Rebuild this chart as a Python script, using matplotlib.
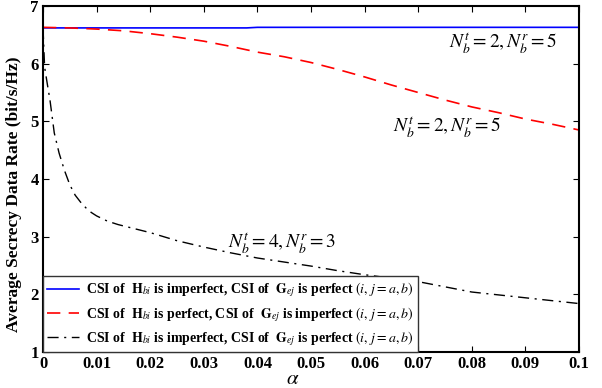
import numpy as np
import matplotlib
matplotlib.use("Agg")
import matplotlib.pyplot as plt

plt.rcParams['font.family'] = ['Liberation Serif', 'DejaVu Serif']
plt.rcParams['mathtext.fontset'] = 'stix'

# data
alpha_bk = [0, 0.0003, 0.0008, 0.0013, 0.0021, 0.003, 0.004, 0.005, 0.006, 0.007,
            0.008, 0.009, 0.01, 0.012, 0.014, 0.017, 0.02, 0.025, 0.03, 0.035,
            0.04, 0.045, 0.05, 0.055, 0.06, 0.065, 0.07, 0.075, 0.08, 0.085,
            0.09, 0.095, 0.1]
rate_black = [6.62, 5.94, 5.65, 5.37, 4.80, 4.45, 4.15, 3.90, 3.72, 3.60,
              3.50, 3.42, 3.36, 3.27, 3.21, 3.14, 3.07, 2.93, 2.82, 2.72,
              2.63, 2.56, 2.49, 2.41, 2.34, 2.28, 2.22, 2.13, 2.04, 1.99,
              1.94, 1.89, 1.84]

alpha = [0, 0.005, 0.01, 0.015, 0.02, 0.025, 0.03, 0.035, 0.038, 0.04,
         0.045, 0.05, 0.055, 0.06, 0.065, 0.07, 0.075, 0.08, 0.085, 0.09,
         0.095, 0.1]
rate_blue = [6.62, 6.62, 6.62, 6.62, 6.62, 6.62, 6.62, 6.62, 6.62, 6.63,
             6.63, 6.63, 6.63, 6.63, 6.63, 6.63, 6.63, 6.63, 6.63, 6.63,
             6.63, 6.63]
rate_red = [6.63, 6.62, 6.60, 6.57, 6.52, 6.46, 6.39, 6.30, 6.24, 6.20,
            6.12, 6.02, 5.90, 5.77, 5.63, 5.50, 5.37, 5.25, 5.15, 5.04,
            4.95, 4.85]

labels = [r"CSI of  $\mathbf{H}_{bi}$ is imperfect, CSI of  $\mathbf{G}_{ej}$ is perfect $(i,\, j = a, b)$",
          r"CSI of  $\mathbf{H}_{bi}$ is perfect, CSI of  $\mathbf{G}_{ej}$ is imperfect $(i,\, j = a, b)$",
          r"CSI of  $\mathbf{H}_{bi}$ is imperfect, CSI of  $\mathbf{G}_{ej}$ is perfect $(i,\, j = a, b)$"]

fig = plt.figure(figsize=(6.02, 3.88), dpi=100)
ax = fig.add_axes([43/602, 36/388, 536/602, 346/388])

ax.plot(alpha, rate_blue, color='#0000ff', lw=1.2, label=labels[0])
ax.plot(alpha, rate_red, color='#ff0000', lw=1.2, ls=(0, (8, 5)), label=labels[1])
ax.plot(alpha_bk, rate_black, color='black', lw=1.0, ls=(0, (8, 4, 1.5, 4)), label=labels[2])

ax.set_xlim(0, 0.1)
ax.set_ylim(1, 7)
ax.set_xticks(np.arange(0, 0.101, 0.01))
ax.set_xticklabels(['0', '0.01', '0.02', '0.03', '0.04', '0.05', '0.06', '0.07', '0.08', '0.09', '0.1'],
                   fontweight='bold', fontsize=12)
ax.set_yticks(range(1, 8))
ax.set_yticklabels([str(v) for v in range(1, 8)], fontweight='bold', fontsize=12)
ax.tick_params(direction='in', top=True, right=True, length=4, width=0.8, pad=3)
for s in ax.spines.values():
    s.set_linewidth(1.5)

ax.set_xlabel(r'$\alpha$', fontsize=15, va='center')
ax.xaxis.set_label_coords(0.465, -0.08)
ax.set_ylabel('Average Secrecy Data Rate (bit/s/Hz)', fontsize=12.5, fontweight='bold')
ax.yaxis.set_label_coords(-0.039, 0.455)

ax.text(0.0757, 6.36, r'$N_b^t = 2, N_b^r = 5$', fontsize=14, va='center')
ax.text(0.0653, 4.90, r'$N_b^t = 2, N_b^r = 5$', fontsize=14, va='center')
ax.text(0.0345, 2.89, r'$N_b^t = 4, N_b^r = 3$', fontsize=14, va='center')

leg = ax.legend(loc='lower left', borderaxespad=0, fancybox=False, framealpha=1,
                edgecolor='#333333', handlelength=2.3, handletextpad=0.5,
                prop={'weight': 'bold', 'size': 10, 'family': 'Liberation Serif'},
                borderpad=0.3, labelspacing=0.4)
leg.get_frame().set_linewidth(1.0)

fig.savefig('out.png', dpi=100)
